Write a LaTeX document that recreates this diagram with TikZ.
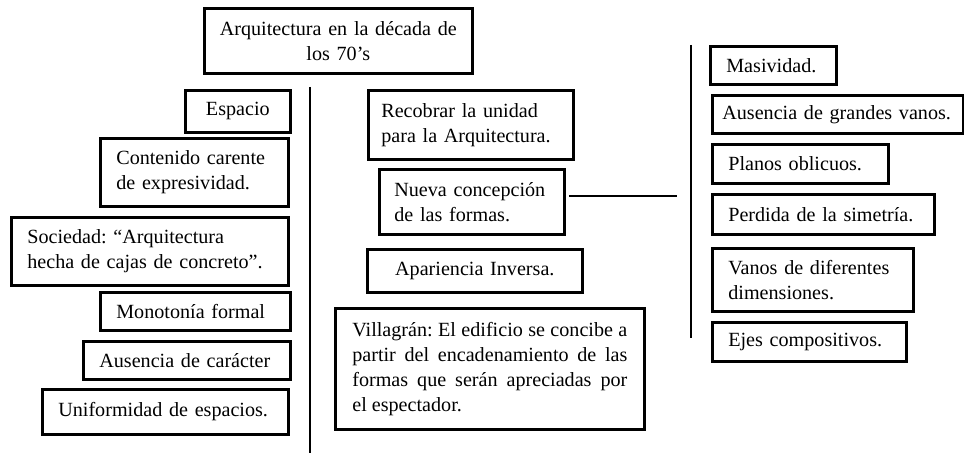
\documentclass[tikz,border=0pt]{standalone}
\usepackage{fontspec}
\setmainfont{Liberation Serif}
\hyphenpenalty=10000
\exhyphenpenalty=10000
\frenchspacing

\begin{document}
\begin{tikzpicture}[x=0.75pt, y=-0.75pt,
        every node/.style = {font=\fontsize{15.1}{18.75}\selectfont},
        caja/.style       = {draw, line width=2pt, anchor=north west, align=left, inner xsep=12pt, inner ysep=0pt},
        centrada/.style   = {caja, align=center, inner xsep=7.5pt},
        linea/.style      = {line width=2pt}]

        \useasboundingbox (0,0) rectangle (964,453);

        % title
        \node[centrada, minimum width=201pt, minimum height=48.75pt, text width=186pt] (titulo) at (203,7) {Arquitectura en la década de\\los 70’s};

        % left column
        \node[centrada, minimum width=78.75pt, minimum height=31.5pt, text width=63.75pt] (espacio) at (184,89) {Espacio};
        \node[caja, minimum width=141pt, minimum height=51pt, text width=117pt] (contenido) at (99,137) {Contenido carente\\de expresividad.};
        \node[caja, minimum width=207.75pt, minimum height=51pt, text width=183.75pt] (sociedad) at (10,216) {Sociedad: “Arquitectura\\hecha de cajas de concreto”.};
        \node[caja, minimum width=142.5pt, minimum height=28.5pt, text width=118.5pt] (monotonia) at (99,291) {Monotonía formal};
        \node[caja, minimum width=155.25pt, minimum height=28.5pt, text width=131.25pt] (caracter) at (82,340) {Ausencia de carácter};
        \node[caja, minimum width=184.5pt, minimum height=33.75pt, text width=160.5pt] (uniformidad) at (41,388) {Uniformidad de espacios.};

        % middle column
        \node[caja, inner xsep=9.75pt, minimum width=153.75pt, minimum height=51.75pt, text width=134.25pt] (recobrar) at (367,89) {Recobrar la unidad\\para la Arquitectura.};
        \node[caja, inner xsep=11.25pt, minimum width=138.75pt, minimum height=48.75pt, text width=116.25pt] (nueva) at (378,168) {Nueva concepción\\de las formas.};
        \node[centrada, minimum width=161.25pt, minimum height=32.25pt, text width=146.25pt] (apariencia) at (366,248) {Apariencia Inversa.};
        \node[caja, align=justify, inner xsep=12.75pt, minimum width=231.75pt, minimum height=90.75pt, text width=206.25pt] (villagran) at (334,307) {Villagrán: El edificio se concibe a\linebreak{} partir del encadenamiento de las\linebreak{} formas que serán apreciadas por\linebreak{} el espectador.};

        % right column
        \begin{scope}[every node/.append style={inner xsep=11.25pt}]
            \node[caja, minimum width=93pt, minimum height=28.5pt, text width=70.5pt] (masividad) at (709,45) {Masividad.};
            \node[caja, inner xsep=7.5pt, minimum width=188.25pt, minimum height=28.5pt, text width=173.25pt] (grandes) at (711,94) {Ausencia de grandes vanos.};
            \node[caja, minimum width=130.5pt, minimum height=29.25pt, text width=108pt] (planos) at (711,143) {Planos oblicuos.};
            \node[caja, minimum width=165pt, minimum height=30pt, text width=142.5pt] (perdida) at (711,193) {Perdida de la simetría.};
            \node[caja, inner xsep=12pt, minimum width=150.75pt, minimum height=47.25pt, text width=126.75pt] (vanos) at (711,247) {Vanos de diferentes\\dimensiones.};
            \node[caja, inner xsep=12pt, minimum width=145.5pt, minimum height=29.25pt, text width=121.5pt] (ejes) at (711,321) {Ejes compositivos.};
        \end{scope}

        % dividing lines and the link to the right column
        \coordinate (izqA) at (310,87);
        \coordinate (izqB) at (310,453);
        \coordinate (derA) at (691,45);
        \coordinate (derB) at (691,338);
        \coordinate (conA) at (569,196);
        \coordinate (conB) at (677,196);

        \foreach \a/\b in {izqA/izqB, derA/derB, conA/conB}
        \draw[linea] (\a) -- (\b);

    \end{tikzpicture}
\end{document}
